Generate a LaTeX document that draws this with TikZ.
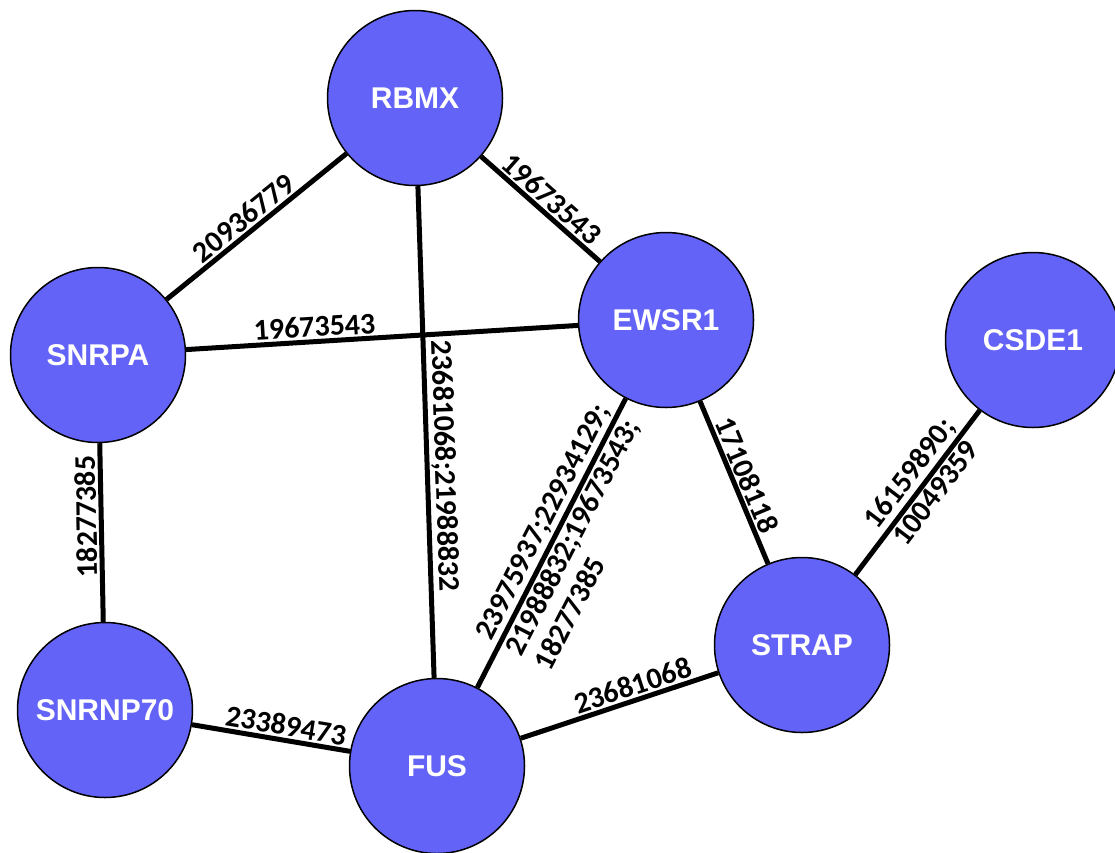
\documentclass[tikz,border=0pt]{standalone}
\usepackage{fontspec}
\setmainfont{Liberation Sans}
\newfontfamily\pmidfont{Carlito}
\definecolor{protblue}{RGB}{99,99,248}

\begin{document}
\begin{tikzpicture}[x=1pt,y=1pt,
		protein/.style={circle,draw=black,line width=1.5pt,fill=protblue,minimum size=175pt,inner sep=0pt,
			text=white,font=\fontsize{30}{36}\selectfont\bfseries},
		link/.style={line width=5pt},
		pmid/.style={sloped,inner sep=2pt,font=\pmidfont\fontsize{30}{33}\selectfont\bfseries}]
		\useasboundingbox (0,0) rectangle (1115,-852);
		% proteins
		\node[protein] (RBMX) at (415,-98) {RBMX};
		\node[protein] (SNRPA) at (98,-355) {SNRPA};
		\node[protein] (EWSR1) at (666,-320) {EWSR1};
		\node[protein] (CSDE1) at (1033,-340) {CSDE1};
		\node[protein] (SNRNP70) at (105,-710) {SNRNP70};
		\node[protein] (FUS) at (437,-766) {FUS};
		\node[protein] (STRAP) at (802,-645) {STRAP};
		% interactions
		\draw[link] (SNRPA) -- node[pmid,above,pos=0.48]{20936779} (RBMX);
		\draw[link] (RBMX) -- node[pmid,above,pos=0.51]{19673543} (EWSR1);
		\draw[link] (SNRPA) -- node[pmid,above,pos=0.33]{19673543} (EWSR1);
		\draw[link] (RBMX) -- node[pmid,above,pos=0.57]{23681068;21988832} (FUS);
		\draw[link] (SNRNP70) -- node[pmid,allow upside down,above,pos=0.59]{18277385} (SNRPA);
		\draw[link] (SNRNP70) -- node[pmid,above,pos=0.58]{23389473} (FUS);
		\draw[link] (FUS) -- node[pmid,above,pos=0.545]{23975937;22934129;}
			node[pmid,below,pos=0.545,align=left]{21988832;19673543;\\18277385} (EWSR1);
		\draw[link] (EWSR1) -- node[pmid,above,pos=0.49]{17108118} (STRAP);
		\draw[link] (FUS) -- node[pmid,above,pos=0.59]{23681068} (STRAP);
		\draw[link] (STRAP) -- node[pmid,above,pos=0.55]{16159890;}
			node[pmid,below,pos=0.55]{10049359} (CSDE1);
	\end{tikzpicture}
\end{document}
